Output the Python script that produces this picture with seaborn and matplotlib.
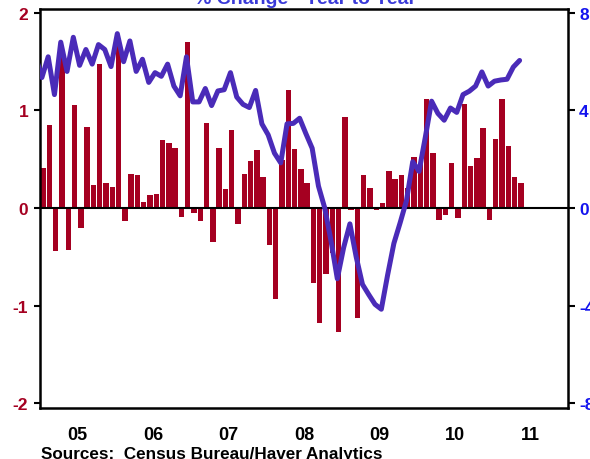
import numpy as np
import pandas as pd
import matplotlib
matplotlib.use('Agg')
import matplotlib.pyplot as plt
import seaborn as sns

# monthly % change (left axis, bars), Jan 2005 .. May 2011
monthly_change = [
    0.41, 0.85, -0.44, 1.56, -0.43, 1.06, -0.21, 0.83, 0.235, 1.48, 0.255, 0.215,
    1.68, -0.13, 0.35, 0.34, 0.06, 0.13, 0.14, 0.70, 0.67, 0.62, -0.09, 1.70,
    -0.05, -0.13, 0.87, -0.35, 0.62, 0.20, 0.80, -0.16, 0.35, 0.48, 0.59, 0.32,
    -0.38, -0.93, 0.49, 1.21, 0.60, 0.40, 0.255, -0.77, -1.18, -0.68, -0.46, -1.27,
    0.93, -0.02, -1.13, 0.34, 0.21, -0.02, 0.05, 0.38, 0.30, 0.34, 0.21, 0.52,
    0.46, 1.12, 0.56, -0.12, -0.07, 0.46, -0.10, 1.07, 0.43, 0.51, 0.82, -0.12,
    0.71, 1.12, 0.64, 0.32, 0.255,
]

# year-to-year % change (right axis, line), Dec 2004 .. May 2011
yoy_change = [
    6.2,
    5.35, 6.2, 4.65, 6.8, 5.6, 7.0, 5.85, 6.5, 5.9, 6.7, 6.5, 5.8,
    7.15, 6.0, 6.85, 5.6, 6.1, 5.15, 5.55, 5.4, 5.9, 5.0, 4.6, 6.2,
    4.35, 4.35, 4.9, 4.2, 4.8, 4.85, 5.55, 4.55, 4.25, 4.12, 4.82, 3.45,
    3.0, 2.25, 1.85, 3.45, 3.47, 3.68, 3.05, 2.45, 0.9, 0.0, -1.35, -2.9,
    -1.63, -0.65, -2.0, -3.13, -3.55, -3.95, -4.15, -2.75, -1.45, -0.6, 0.3, 1.9,
    1.5, 2.9, 4.38, 3.88, 3.6, 4.1, 3.92, 4.65, 4.79, 5.0, 5.58, 5.0,
    5.2, 5.25, 5.28, 5.78, 6.05,
]

year_labels = ['05', '06', '07', '08', '09', '10', '11']
left_ticks = [-2, -1, 0, 1, 2]
right_ticks = [-8, -4, 0, 4, 8]

BAR = '#a50021'
LINE = '#4a2bb8'
RIGHT_TXT = '#1414ee'
TITLE_TXT = '#3a3ad8'

sns.set_style('white')
plt.rcParams['font.family'] = ['Liberation Sans', 'DejaVu Sans']

fig = plt.figure(figsize=(5.9, 4.6), dpi=100)
ax = fig.add_axes([40 / 590, 1 - 409 / 460, 528 / 590, 399 / 460])

bars = pd.DataFrame({'month': np.arange(len(monthly_change)) + 0.5,
                     'change': monthly_change})
sns.barplot(data=bars, x='month', y='change', native_scale=True, color=BAR,
            saturation=1, width=0.86, linewidth=0, ax=ax)
ax.axhline(0, color='black', lw=1.5, zorder=3)

ax2 = ax.twinx()
line = pd.DataFrame({'month': np.arange(len(yoy_change)) - 0.7,
                     'yoy': yoy_change})
sns.lineplot(data=line, x='month', y='yoy', color=LINE, lw=3.6, ax=ax2)

ax.set_xlim(0, 84)
ax.set_ylim(-2.05, 2.04)
ax2.set_ylim(-8.2, 8.16)
ax.set_xlabel('')
ax.set_ylabel('')
ax2.set_ylabel('')

ax.set_xticks(np.arange(0, 85, 12))
ax.set_xticklabels([])
ax.set_xticks(np.arange(0, 85), minor=True)
ax.tick_params(axis='x', which='major', length=10, width=1, color='#555555', direction='out')
ax.tick_params(axis='x', which='minor', length=4.5, width=1, color='#555555', direction='out')
for k, lab in enumerate(year_labels):
    ax.text(6 + 12 * k, -0.066, lab, transform=ax.get_xaxis_transform(),
            ha='center', va='center', fontsize=13, fontweight='bold', color='black')

ax.set_yticks(left_ticks)
ax.set_yticklabels([str(t) for t in left_ticks], fontweight='bold', fontsize=12.5, color=BAR)
ax.tick_params(axis='y', length=4.5, width=1.5, color='black', pad=4, direction='out')
ax.yaxis.set_ticks_position('left')

ax2.set_yticks(right_ticks)
ax2.set_yticklabels([str(t) for t in right_ticks], fontweight='bold', fontsize=12.5, color=RIGHT_TXT)
ax2.tick_params(axis='y', length=5, width=1.5, color='black', pad=3, direction='out')

for s in ax.spines.values():
    s.set_visible(True)
    s.set_color('black')
    s.set_linewidth(1.8)
for s in ax2.spines.values():
    s.set_visible(False)

fig.text(305 / 590, 1 - 4 / 460, '% Change - Year to Year', ha='center', va='baseline',
         fontsize=14, fontweight='bold', color=TITLE_TXT)
fig.text(41 / 590, 1 - 459 / 460, 'Sources:  Census Bureau/Haver Analytics', ha='left',
         va='baseline', fontsize=12.3, fontweight='bold', color='black')

fig.savefig('out.png', dpi=100)
